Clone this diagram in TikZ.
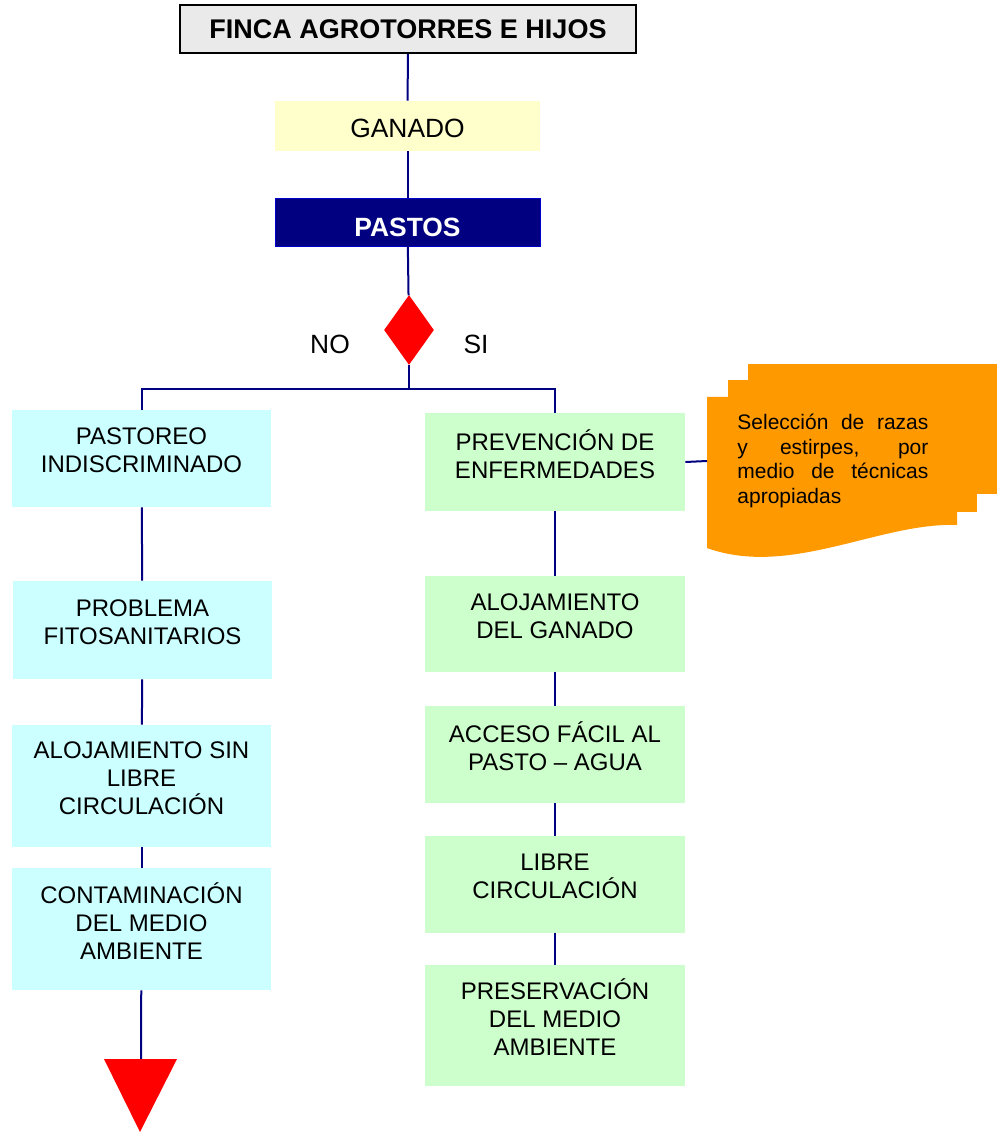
\documentclass[tikz,border=0pt]{standalone}
\usepackage{fontspec}
\setmainfont{Liberation Sans}
\usetikzlibrary{shapes.geometric}
\definecolor{navyline}{HTML}{000080}
\definecolor{cellcyan}{HTML}{CCFFFF}
\definecolor{cellgreen}{HTML}{CCFFCC}
\definecolor{cellyellow}{HTML}{FFFFCC}
\definecolor{titlegray}{HTML}{EAEAEA}
\definecolor{docorange}{HTML}{FF9900}
\begin{document}
\begin{tikzpicture}[x=0.5pt,y=-0.5pt,
  link/.style={draw=navyline, line width=1pt},
  cell/.style={inner sep=0pt, align=center, font=\fontsize{12}{14}\selectfont,
    execute at end node={\rule[-8pt]{0pt}{8pt}}},
  leftcell/.style={cell, fill=cellcyan, minimum width=129.5pt},
  rightcell/.style={cell, fill=cellgreen, minimum width=130pt}]
\useasboundingbox (0,0) rectangle (1000,1133);

\node[draw=black, line width=1.2pt, fill=titlegray, minimum width=228pt, minimum height=24pt,
  font=\fontsize{13.5}{16}\selectfont\bfseries] (title) at (408,29) {FINCA AGROTORRES E HIJOS}; % top box
\node[fill=cellyellow, minimum width=132.5pt, minimum height=25pt, text height=11.5pt, text depth=0pt,
  font=\fontsize{13.2}{15}\selectfont] (ganado) at (407.5,126) {GANADO};
\node[fill=navyline, draw=blue!60!navyline, minimum width=132.5pt, minimum height=24pt, text=white,
  text height=14.5pt, text depth=0pt,
  font=\fontsize{13.2}{15}\selectfont\bfseries] (pastos) at (407.5,222) {PASTOS};
\node[diamond, fill=red, inner sep=0pt, minimum width=25pt, minimum height=35pt] (dia) at (409,330) {}; % decision
\node[font=\fontsize{13.2}{15}\selectfont] (no) at (330,344) {NO};
\node[font=\fontsize{13.2}{15}\selectfont] (si) at (476,344) {SI};
\coordinate (split) at (409,389);

% NO branch
\node[leftcell, minimum height=48.5pt] (l1) at (141.5,458.5) {PASTOREO\\INDISCRIMINADO};
\node[leftcell, minimum height=49pt] (l2) at (142.5,630) {PROBLEMA\\FITOSANITARIOS};
\node[leftcell, minimum height=61pt] (l3) at (141.5,786) {ALOJAMIENTO SIN\\LIBRE\\CIRCULACIÓN};
\node[leftcell, minimum height=61pt] (l4) at (141.5,929) {CONTAMINACIÓN\\DEL MEDIO\\AMBIENTE};
\coordinate (tri) at (141,1059);
\fill[red] (104,1059) -- (177,1059) -- (140,1132) -- cycle; % end mark

% SI branch
\node[rightcell, minimum height=49pt] (r1) at (555,462) {PREVENCIÓN DE\\ENFERMEDADES};
\node[rightcell, minimum height=48pt] (r2) at (555,624) {ALOJAMIENTO\\DEL GANADO};
\node[rightcell, minimum height=48.5pt] (r3) at (555,754.5) {ACCESO FÁCIL AL\\PASTO – AGUA};
\node[rightcell, minimum height=48.5pt] (r4) at (555,884.5) {LIBRE\\CIRCULACIÓN};
\node[rightcell, minimum height=60.5pt] (r5) at (555,1025.5) {PRESERVACIÓN\\DEL MEDIO\\AMBIENTE};

% multi-document note
\fill[docorange] (748,364) rectangle (997,494); % back sheet
\fill[docorange] (728,380) rectangle (977,512); % middle sheet
\fill[docorange] (707,397) -- (957,397) -- (957,525)
  .. controls (880,522) and (790,578) .. (707,548) -- cycle; % front sheet
\coordinate (doc) at (707,461);
\node[anchor=north west, inner sep=0pt, text width=95.5pt, align=justify,
  font=\fontsize{10.5}{12.25}\selectfont] (sel) at (737,414)
  {Selección de razas\linebreak y estirpes, por\linebreak medio de técnicas\linebreak apropiadas};

% connectors
\draw[link] (title) -- (ganado);
\draw[link] (ganado) -- (pastos);
\draw[link] (pastos) -- (dia);
\draw[link] (dia) -- (split);
\draw[link] (split) -| (l1);
\draw[link] (split) -| (r1);
\draw[link] (l1) -- (l2);
\draw[link] (l2) -- (l3);
\draw[link] (l3) -- (l4);
\draw[link] (l4) -- (tri);
\draw[link] (r1) -- (r2);
\draw[link] (r2) -- (r3);
\draw[link] (r3) -- (r4);
\draw[link] (r4) -- (r5);
\draw[link] (r1.east) -- (doc);
\end{tikzpicture}
\end{document}
